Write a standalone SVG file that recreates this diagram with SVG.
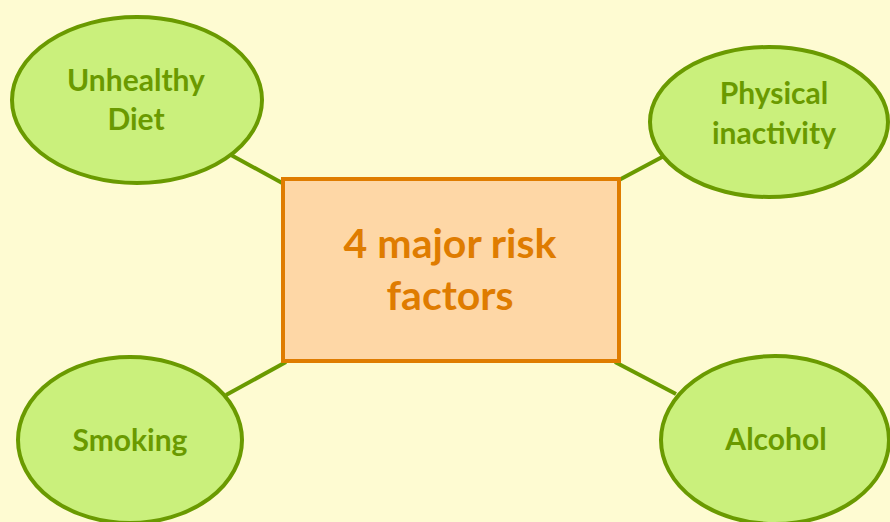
<svg xmlns="http://www.w3.org/2000/svg" width="890" height="522" viewBox="0 0 890 522">
<style>
.ell{fill:#CAF07C;stroke:#6A9A00;stroke-width:4}
.gt{font-family:Lato,"Open Sans",sans-serif;font-weight:bold;font-size:30px;fill:#6A9A00;text-anchor:middle}
.ot{font-family:Lato,"Open Sans",sans-serif;font-weight:bold;font-size:41px;fill:#DF7C00;text-anchor:middle}
.con{stroke:#6A9A00;stroke-width:4}
</style>
<rect width="890" height="522" fill="#FEFBD2"/>
<g id="connectors">
<line class="con" x1="231" y1="155" x2="284" y2="184"/>
<line class="con" x1="619" y1="180" x2="664" y2="156"/>
<line class="con" x1="226" y1="395" x2="286" y2="362"/>
<line class="con" x1="615" y1="362" x2="676" y2="394"/>
</g>
<g id="center">
<rect x="283" y="179" width="336" height="182" fill="#FED7A6" stroke="#DF7C00" stroke-width="4"/>
<text class="ot" x="450" y="258">4 major risk</text>
<text class="ot" x="450" y="310">factors</text>
</g>
<g id="diet">
<ellipse class="ell" cx="137" cy="100" rx="125" ry="83"/>
<text class="gt" x="136" y="91">Unhealthy</text>
<text class="gt" x="136" y="130">Diet</text>
</g>
<g id="physical">
<ellipse class="ell" cx="769" cy="122" rx="119" ry="75"/>
<text class="gt" x="774" y="104">Physical</text>
<text class="gt" x="774" y="144">inactivity</text>
</g>
<g id="smoking">
<ellipse class="ell" cx="130" cy="440" rx="112" ry="83"/>
<text class="gt" x="130" y="451">Smoking</text>
</g>
<g id="alcohol">
<ellipse class="ell" cx="775" cy="440" rx="114" ry="84"/>
<text class="gt" x="776" y="450">Alcohol</text>
</g>
</svg>
